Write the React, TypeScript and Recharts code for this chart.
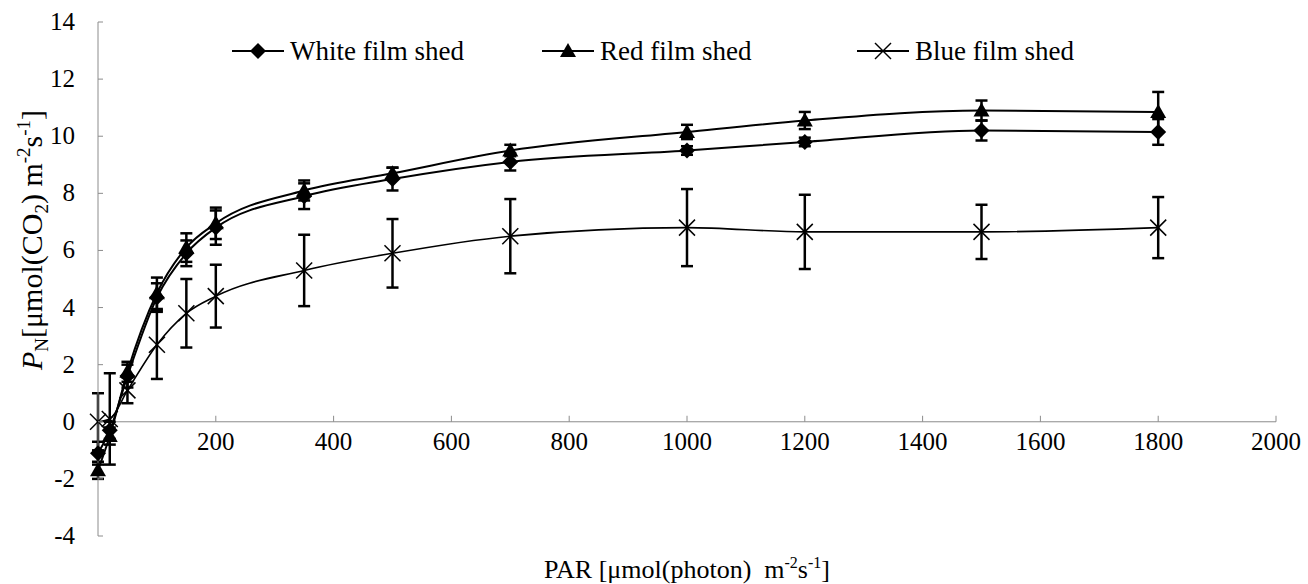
import React from 'react';
import { LineChart, Line, XAxis, YAxis, ErrorBar, ReferenceLine } from 'recharts';

// PAR levels and net photosynthetic rate (mean, error) per shed type
const par = [0, 20, 50, 100, 150, 200, 350, 500, 700, 1000, 1200, 1500, 1800];
const whiteFilm = [-1.1, -0.3, 1.6, 4.35, 5.9, 6.8, 7.9, 8.5, 9.1, 9.5, 9.8, 10.2, 10.15];
const whiteFilmErr = [0.4, 0.3, 0.4, 0.5, 0.45, 0.6, 0.45, 0.4, 0.3, 0.15, 0.15, 0.35, 0.45];
const redFilm = [-1.7, -0.5, 1.75, 4.5, 6.1, 6.95, 8.1, 8.7, 9.5, 10.15, 10.55, 10.9, 10.85];
const redFilmErr = [0.3, 0.3, 0.35, 0.55, 0.5, 0.55, 0.35, 0.2, 0.2, 0.25, 0.3, 0.35, 0.7];
const blueFilm = [0, 0.1, 1.1, 2.7, 3.8, 4.4, 5.3, 5.9, 6.5, 6.8, 6.65, 6.65, 6.8];
const blueFilmErr = [1.0, 1.6, 0.45, 1.2, 1.2, 1.1, 1.25, 1.2, 1.3, 1.35, 1.3, 0.95, 1.07];

const xTicks = [0, 200, 400, 600, 800, 1000, 1200, 1400, 1600, 1800, 2000];
const yTicks = [-4, -2, 0, 2, 4, 6, 8, 10, 12, 14];

const data = par.map((p, i) => ({
  par: p,
  white: whiteFilm[i],
  whiteErr: whiteFilmErr[i],
  red: redFilm[i],
  redErr: redFilmErr[i],
  blue: blueFilm[i],
  blueErr: blueFilmErr[i],
}));

const W = 1308;
const H = 584;
const MARGIN = { top: 22, right: 32, bottom: 47, left: 38 };
const X_AXIS_H = 1;
const Y_AXIS_W = 60;
const Y_MIN = -4;
const Y_MAX = 14;
const AXIS_X = MARGIN.left + Y_AXIS_W;
const PLOT_TOP = MARGIN.top;
const PLOT_BOTTOM = H - MARGIN.bottom - X_AXIS_H;
const ZERO_Y = PLOT_TOP + ((Y_MAX - 0) / (Y_MAX - Y_MIN)) * (PLOT_BOTTOM - PLOT_TOP);

const FONT = '"Liberation Serif", "Times New Roman", serif';
const AXIS_COLOR = '#8c8c8c';
const FS = 25;

const Diamond = ({ cx, cy, s = 8 }: any) => (
  <polygon points={`${cx},${cy - s} ${cx + s},${cy} ${cx},${cy + s} ${cx - s},${cy}`} fill="#000" />
);

const Triangle = ({ cx, cy, s = 8 }: any) => (
  <polygon points={`${cx},${cy - s} ${cx + s},${cy + s * 0.75} ${cx - s},${cy + s * 0.75}`} fill="#000" />
);

const Cross = ({ cx, cy, s = 8 }: any) => (
  <g stroke="#000" strokeWidth={1.5}>
    <line x1={cx - s} y1={cy - s} x2={cx + s} y2={cy + s} />
    <line x1={cx - s} y1={cy + s} x2={cx + s} y2={cy - s} />
  </g>
);

const XTick = ({ x, payload }: any) => {
  if (payload.value === 0) return <g />;
  return (
    <g>
      <line x1={x} x2={x} y1={ZERO_Y} y2={ZERO_Y - 6} stroke={AXIS_COLOR} />
      <text x={x} y={ZERO_Y + 28} textAnchor="middle" fontFamily={FONT} fontSize={FS} fill="#000">
        {payload.value}
      </text>
    </g>
  );
};

const YTick = ({ y, payload }: any) => (
  <g>
    <line x1={AXIS_X} x2={AXIS_X + 5} y1={y} y2={y} stroke={AXIS_COLOR} />
    <text x={AXIS_X - 23} y={y + 8} textAnchor="end" fontFamily={FONT} fontSize={FS} fill="#000">
      {payload.value}
    </text>
  </g>
);

const legendItems = [
  { label: 'White film shed', x: 232, Mark: Diamond },
  { label: 'Red film shed', x: 542, Mark: Triangle },
  { label: 'Blue film shed', x: 857, Mark: Cross },
];

const Overlay = () => (
  <svg width={W} height={H} style={{ position: 'absolute', left: 0, top: 0, pointerEvents: 'none' }}>
    {legendItems.map(({ label, x, Mark }) => (
      <g key={label}>
        <line x1={x} x2={x + 52} y1={51} y2={51} stroke="#000" strokeWidth={2} />
        <Mark cx={x + 26} cy={51} />
        <text x={x + 58} y={60} fontFamily={FONT} fontSize={27} fill="#000">
          {label}
        </text>
      </g>
    ))}
    <text x={687} y={578} textAnchor="middle" fontFamily={FONT} fontSize={26} fill="#000">
      PAR [μmol(photon)&#160;&#160;m
      <tspan dy={-10} fontSize={16}>-2</tspan>
      <tspan dy={10}>s</tspan>
      <tspan dy={-10} fontSize={16}>-1</tspan>
      <tspan dy={10}>]</tspan>
    </text>
    <text
      transform="translate(42,240) rotate(-90)"
      textAnchor="middle"
      fontFamily={FONT}
      fontSize={30}
      fill="#000"
    >
      <tspan fontStyle="italic">P</tspan>
      <tspan dy={6} fontSize={19}>N</tspan>
      <tspan dy={-6}>[μmol(CO</tspan>
      <tspan dy={6} fontSize={19}>2</tspan>
      <tspan dy={-6}>) m</tspan>
      <tspan dy={-12} fontSize={19}>-2</tspan>
      <tspan dy={12}>s</tspan>
      <tspan dy={-12} fontSize={19}>-1</tspan>
      <tspan dy={12}>]</tspan>
    </text>
  </svg>
);

export default function App() {
  return (
    <div style={{ position: 'absolute', left: 0, top: 0, width: W, height: H, background: '#fff' }}>
      <LineChart width={W} height={H} data={data} margin={MARGIN}>
        <XAxis
          dataKey="par"
          type="number"
          domain={[0, 2000]}
          ticks={xTicks}
          interval={0}
          height={X_AXIS_H}
          axisLine={false}
          tickLine={false}
          tick={<XTick />}
        />
        <YAxis
          type="number"
          domain={[Y_MIN, Y_MAX]}
          ticks={yTicks}
          interval={0}
          width={Y_AXIS_W}
          axisLine={{ stroke: AXIS_COLOR }}
          tickLine={false}
          tick={<YTick />}
          allowDataOverflow
        />
        <ReferenceLine y={0} stroke={AXIS_COLOR} />
        <Line
          type="monotone"
          dataKey="blue"
          stroke="#000"
          strokeWidth={1.6}
          isAnimationActive={false}
          dot={(p: any) => <Cross key={`b${p.index}`} cx={p.cx} cy={p.cy} />}
        >
          <ErrorBar dataKey="blueErr" width={6} stroke="#000" strokeWidth={2.5} isAnimationActive={false} />
        </Line>
        <Line
          type="monotone"
          dataKey="white"
          stroke="#000"
          strokeWidth={2}
          isAnimationActive={false}
          dot={(p: any) => <Diamond key={`w${p.index}`} cx={p.cx} cy={p.cy} />}
        >
          <ErrorBar dataKey="whiteErr" width={6} stroke="#000" strokeWidth={2.5} isAnimationActive={false} />
        </Line>
        <Line
          type="monotone"
          dataKey="red"
          stroke="#000"
          strokeWidth={2}
          isAnimationActive={false}
          dot={(p: any) => <Triangle key={`r${p.index}`} cx={p.cx} cy={p.cy} />}
        >
          <ErrorBar dataKey="redErr" width={6} stroke="#000" strokeWidth={2.5} isAnimationActive={false} />
        </Line>
      </LineChart>
      <Overlay />
    </div>
  );
}
